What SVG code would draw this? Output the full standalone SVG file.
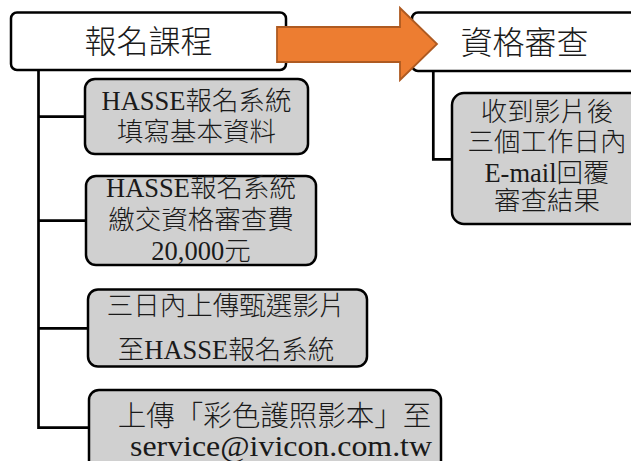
<svg xmlns="http://www.w3.org/2000/svg" width="631" height="461" viewBox="0 0 631 461">
<style>
.top{fill:#ffffff;stroke:#000;stroke-width:2.5}
.sub{fill:#d0d0d0;stroke:#000;stroke-width:2.5}
.conn{fill:none;stroke:#000;stroke-width:2.7}
.big{font-family:"Liberation Sans","Noto Sans CJK TC",sans-serif;font-size:32px;font-weight:300;fill:#1a1a1a;text-anchor:middle}
.t{font-family:"Liberation Serif","Noto Sans CJK TC",serif;font-size:26.5px;font-weight:300;fill:#1a1a1a;text-anchor:middle}
.arrow{fill:#ed7d31;stroke:#ae5a21;stroke-width:1.8}
</style>
<rect width="631" height="461" fill="#ffffff"/>
<g id="connectors">
<path class="conn" d="M38.5 70 V427.7 H89 M38.5 116.7 H85 M38.5 220.7 H86 M38.5 328.3 H88"/>
<path class="conn" d="M433.3 71 V159.3 H452"/>
</g>
<g id="node-register">
<rect class="top" x="11" y="12.5" width="275" height="57.5" rx="6"/>
<text class="big" x="148.5" y="53">報名課程</text>
</g>
<g id="node-review">
<rect class="top" x="412" y="12.5" width="230" height="58.5" rx="6"/>
<text class="big" x="524.5" y="54">資格審查</text>
</g>
<g id="node-arrow">
<polygon class="arrow" points="277,27 400,27 400,8 437,44 400,80 400,62 277,62"/>
</g>
<g id="node-a">
<rect class="sub" x="85" y="79" width="223" height="75" rx="10"/>
<text class="t" x="196.5" y="110">HASSE報名系統</text>
<text class="t" x="196.5" y="140.5">填寫基本資料</text>
</g>
<g id="node-b">
<rect class="sub" x="86" y="176" width="230" height="89" rx="10"/>
<text class="t" x="201" y="197">HASSE報名系統</text>
<text class="t" x="201" y="228.5">繳交資格審查費</text>
<text class="t" x="201" y="260">20,000元</text>
</g>
<g id="node-c">
<rect class="sub" x="88" y="289.5" width="279" height="77" rx="10"/>
<text class="t" x="226" y="315">三日內上傳甄選影片</text>
<text class="t" x="226" y="359">至HASSE報名系統</text>
</g>
<g id="node-d">
<rect class="sub" x="89" y="390" width="352" height="90" rx="10"/>
<text class="t" x="274.5" y="426" style="font-size:28.5px">上傳「彩色護照影本」至</text>
<text class="t" x="281" y="456" style="font-size:28.5px" textLength="302" lengthAdjust="spacingAndGlyphs">service@ivicon.com.tw</text>
</g>
<g id="node-result">
<rect class="sub" x="452" y="93" width="195" height="131" rx="12"/>
<text class="t" x="547" y="121">收到影片後</text>
<text class="t" x="547" y="151">三個工作日內</text>
<text class="t" x="547" y="182">E-mail回覆</text>
<text class="t" x="547" y="210">審查結果</text>
</g>
</svg>
